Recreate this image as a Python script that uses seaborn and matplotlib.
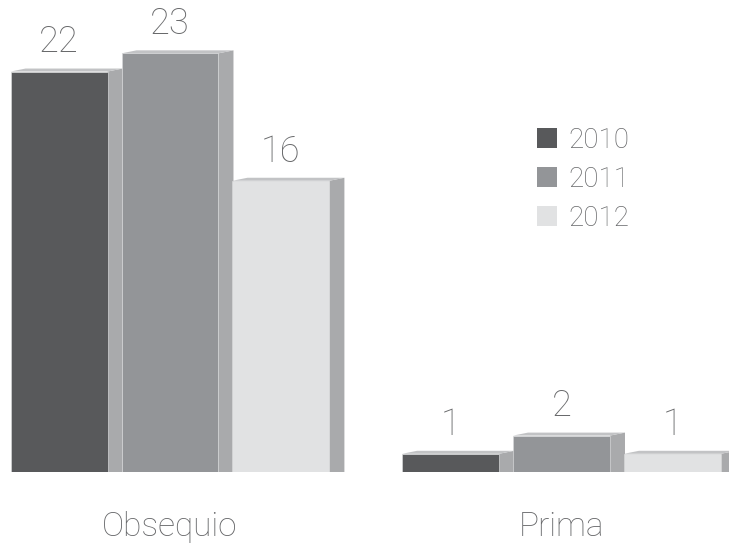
import matplotlib
matplotlib.use("Agg")
import matplotlib.pyplot as plt
from matplotlib.patches import Polygon, Patch
import seaborn as sns
import pandas as pd

# Data
categories = ["Obsequio", "Prima"]
years = ["2010", "2011", "2012"]
obsequio = [22, 23, 16]
prima = [1, 2, 1]

front_colors = ["#58595b", "#939598", "#e1e2e3"]
side_color = "#a9aaac"
top_color = "#c2c3c5"
text_color = "#67686a"

df = pd.DataFrame({
    "categoria": [c for c in categories for _ in years],
    "anio": years * len(categories),
    "valor": obsequio + prima,
})

sns.set_theme(style="white")
plt.rcParams["font.family"] = ["Roboto", "DejaVu Sans"]
plt.rcParams["font.weight"] = 100

fig = plt.figure(figsize=(7.29, 5.46), dpi=100)
ax = fig.add_axes([0, 74 / 546, 1, 472 / 546])

sns.barplot(
    data=df, x="categoria", y="valor", hue="anio", hue_order=years,
    order=categories, palette=front_colors, saturation=1,
    width=0.85, gap=0.126, errorbar=None, legend=False,
    edgecolor="#d6d7d8", linewidth=0.5, ax=ax, zorder=3,
)

ax.set_xlim(-0.4342, 1.4278)
ax.set_ylim(0, 25.93)

# Oblique depth of the pseudo-3D bars (data units)
dx = 15 / 391.5
dy = 3 / 18.2

for container in ax.containers:
    for bar in container:
        l = bar.get_x()
        w = bar.get_width()
        h = bar.get_height()
        r = l + w
        side = Polygon([(r, 0), (r + dx, 0), (r + dx, h + dy), (r, h)],
                       closed=True, facecolor=side_color, edgecolor="none",
                       zorder=2)
        top = Polygon([(l, h), (l + dx, h + dy), (r + dx, h + dy), (r, h)],
                      closed=True, facecolor=top_color, edgecolor="none",
                      zorder=2)
        ax.add_patch(side)
        ax.add_patch(top)
    ax.bar_label(container, fmt="%g", padding=8, fontsize=26,
                 color=text_color, fontweight=100)

ax.set_xlabel("")
ax.set_ylabel("")
ax.set_yticks([])
ax.tick_params(axis="x", length=0, labelsize=24, pad=28, labelcolor=text_color)
sns.despine(ax=ax, left=True, bottom=True)

handles = [Patch(facecolor=c, edgecolor="none") for c in front_colors]
ax.legend(
    handles, years, loc="upper left",
    bbox_to_anchor=(537 / 729, 1 - 127 / 546), bbox_transform=fig.transFigure,
    frameon=False, fontsize=20, handlelength=0.72, handleheight=0.72,
    handletextpad=0.4, labelspacing=0.43, borderpad=0, borderaxespad=0,
    labelcolor=text_color,
)

fig.savefig("out.png", dpi=100)
